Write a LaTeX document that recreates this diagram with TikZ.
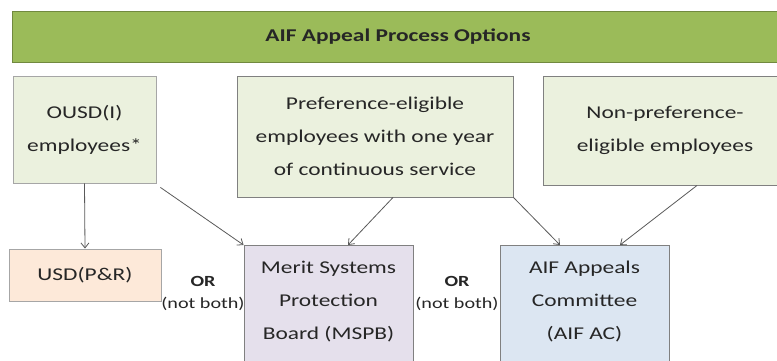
\documentclass[tikz,border=0pt]{standalone}
\usepackage{fontspec}
\setmainfont{Carlito}[FakeStretch=1.3]
\usetikzlibrary{arrows.meta}

\definecolor{bargreen}{HTML}{9BBB59}
\definecolor{bardark}{HTML}{71893F}
\definecolor{palegreen}{HTML}{EBF1DE}
\definecolor{peach}{HTML}{FDE9D9}
\definecolor{lavender}{HTML}{E5E0EC}
\definecolor{paleblue}{HTML}{DCE6F2}
\definecolor{edgegray}{HTML}{808080}
\definecolor{lightedge}{HTML}{A6A6A6}
\definecolor{arrowgray}{HTML}{595959}
\definecolor{inkdark}{HTML}{262626}

\tikzset{
	box/.style={draw=edgegray, line width=0.9pt, align=center, inner sep=0pt, text=inkdark, font=\fontsize{18}{33}\selectfont},
	greenbox/.style={box, fill=palegreen},
	lowbox/.style={box, anchor=north, inner ysep=16pt, text depth=120pt},
	ornote/.style={align=center, inner sep=0pt, text=inkdark, font=\fontsize{15.5}{22}\selectfont},
	link/.style={draw=arrowgray, line width=0.8pt, -{Straight Barb[length=5pt,width=8pt]}}
}

\begin{document}
\begin{tikzpicture}[x=1pt,y=-1pt]
	\useasboundingbox (0,0) rectangle (777,360);
	\clip (0,0) rectangle (777,360);
	% title bar
	\node[box, draw=bardark, fill=bargreen, minimum width=772, minimum height=51, font=\bfseries\fontsize{18}{22}\selectfont] (title) at (398,36.5) {AIF Appeal Process Options};
	% who may appeal
	\node[greenbox, draw=lightedge, minimum width=143, minimum height=107] (ousd) at (84.5,129.5) {OUSD(I)\\employees*};
	\node[greenbox, minimum width=276, minimum height=121] (pref) at (375,136.5) {Preference-eligible\\employees with one year\\of continuous service};
	\node[greenbox, minimum width=244, minimum height=109] (nonpref) at (665,130.5) {Non-preference-\\eligible employees};
	% where to appeal
	\node[box, draw=lightedge, fill=peach, minimum width=152, minimum height=52] (usd) at (85,275) {USD(P\&R)};
	\node[lowbox, fill=lavender, minimum width=169] (mspb) at (328.5,245) {Merit Systems\\Protection\\Board (MSPB)};
	\node[lowbox, fill=paleblue, minimum width=169] (aifac) at (584.5,245) {AIF Appeals\\Committee\\(AIF AC)};
	\node[ornote] (or1) at (203,293) {{\bfseries OR}\\(not both)};
	\node[ornote] (or2) at (457,293) {{\bfseries OR}\\(not both)};
	% arrows
	\draw[link] (ousd.south) -- (usd.north);
	\draw[link] ([xshift=4pt,yshift=-4pt]ousd.south east) -- (mspb.north west);
	\draw[link] ([xshift=18pt]pref.south) -- ([xshift=19.5pt]mspb.north);
	\draw[link] (pref.south east) -- ([xshift=-24.5pt]aifac.north);
	\draw[link] ([xshift=32pt]nonpref.south) -- ([xshift=35.5pt]aifac.north);
\end{tikzpicture}
\end{document}
